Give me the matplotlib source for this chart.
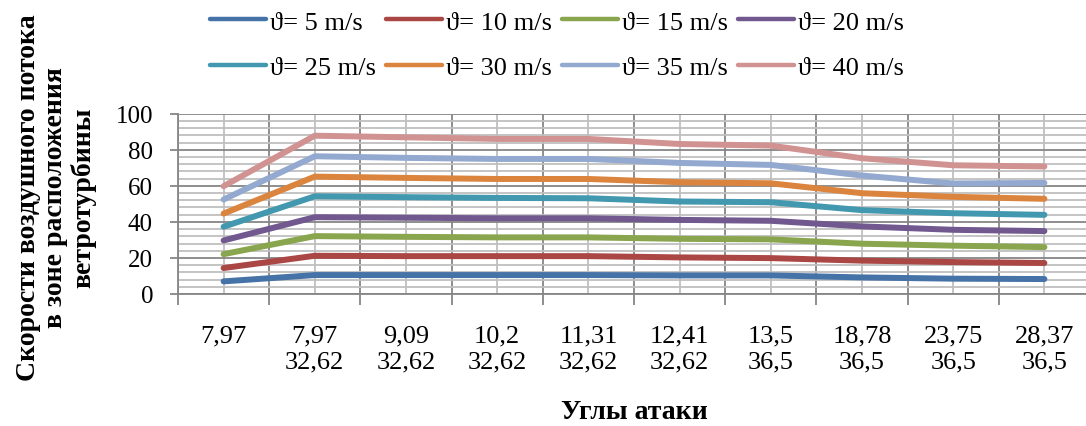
import matplotlib
matplotlib.use("Agg")
import matplotlib.pyplot as plt
from matplotlib.ticker import MultipleLocator, FixedLocator, NullFormatter

plt.rcParams['font.family'] = ['Liberation Serif', 'DejaVu Serif']

categories = ["7,97", "7,97\n32,62", "9,09\n32,62", "10,2\n32,62", "11,31\n32,62",
              "12,41\n32,62", "13,5\n36,5", "18,78\n36,5", "23,75\n36,5", "28,37\n36,5"]

v5  = [7.0, 10.5, 10.5, 10.5, 10.5, 10.3, 10.3, 9.2, 8.5, 8.3]
v10 = [14.4, 21.2, 21.0, 21.0, 21.0, 20.3, 19.9, 18.5, 17.7, 17.2]
v15 = [22.1, 32.1, 31.7, 31.4, 31.4, 30.6, 30.3, 27.9, 26.8, 26.0]
v20 = [29.7, 42.6, 42.3, 42.0, 42.0, 41.1, 40.6, 37.5, 35.6, 34.9]
v25 = [37.3, 54.2, 53.7, 53.3, 53.1, 51.3, 50.9, 46.5, 44.8, 43.9]
v30 = [44.6, 65.1, 64.4, 63.8, 63.8, 62.0, 61.4, 55.9, 53.9, 52.8]
v35 = [52.4, 76.4, 75.5, 74.9, 74.9, 72.7, 71.6, 65.7, 61.3, 61.6]
v40 = [59.8, 87.8, 86.9, 86.0, 86.0, 83.2, 82.3, 75.3, 71.4, 70.7]

series = [v5, v10, v15, v20, v25, v30, v35, v40]
labels = ["ϑ= 5 m/s", "ϑ= 10 m/s", "ϑ= 15 m/s", "ϑ= 20 m/s",
          "ϑ= 25 m/s", "ϑ= 30 m/s", "ϑ= 35 m/s", "ϑ= 40 m/s"]
colors = ["#4572A7", "#AA4643", "#89A54E", "#71588F",
          "#4198AF", "#DB843D", "#93A9CF", "#D19392"]

fig = plt.figure(figsize=(10.86, 4.27), dpi=100)
ax = fig.add_axes([178/1086, 1 - 295/427, 1 - 178/1086, (295 - 114.7)/427])

x = list(range(len(categories)))
handles = []
for vals, lab, col in zip(series, labels, colors):
    h, = ax.plot(x, vals, color=col, lw=4.3, solid_capstyle='round',
                 solid_joinstyle='round', label=lab, zorder=3)
    handles.append(h)

ax.set_ylim(0, 100)
ax.set_xlim(-0.5, 9.5 - 4/91.2)

# y ticks
ax.yaxis.set_major_locator(MultipleLocator(20))
ax.yaxis.set_minor_locator(MultipleLocator(4))
ax.tick_params(axis='y', which='major', length=6, width=1.3, color='#868686',
               labelsize=18, pad=12, direction='out')
ax.tick_params(axis='y', which='minor', length=0)

# x ticks: majors at boundaries, minors (labelled) at centers
ax.xaxis.set_major_locator(FixedLocator([i - 0.5 for i in range(11)]))
ax.xaxis.set_major_formatter(NullFormatter())
ax.set_xticks(x, categories, minor=True)
ax.tick_params(axis='x', which='major', length=8, width=1.3, color='#868686', direction='out')
ax.tick_params(axis='x', which='minor', length=0, labelsize=19, pad=22)
for t in ax.get_xticklabels(minor=True):
    t.set_linespacing(1.25)

ax.grid(which='major', color='#868686', lw=1.3, zorder=1)
ax.grid(which='minor', color='#BFBFBF', lw=1.3, zorder=0)

for s in ['top', 'right']:
    ax.spines[s].set_visible(False)
ax.spines['left'].set_color('#868686')
ax.spines['bottom'].set_color('#868686')
ax.spines['left'].set_linewidth(1.3)
ax.spines['bottom'].set_linewidth(1.3)
ax.set_axisbelow(True)

fig.text(634/1086, 1 - 413/427, "Углы атаки", ha='center', va='center',
         fontsize=20, fontweight='bold')

fig.text(56/1086, 1 - 198/427,
         "Скорости воздушного потока\nв зоне расположения\nветротурбины",
         rotation=90, ha='center', va='center', ma='center', linespacing=1.1,
         fontsize=20, fontweight='bold')

order = [0, 4, 1, 5, 2, 6, 3, 7]
leg = fig.legend([handles[i] for i in order], [labels[i] for i in order],
                 ncol=4, loc='upper center', bbox_to_anchor=(557/1086, 1.005),
                 frameon=False, fontsize=19, handlelength=2.15, handletextpad=0.15,
                 columnspacing=0.35, labelspacing=0.85, borderaxespad=0.1)
for lh in leg.get_lines():
    lh.set_linewidth(3.2)

fig.savefig("out.png", dpi=100)
